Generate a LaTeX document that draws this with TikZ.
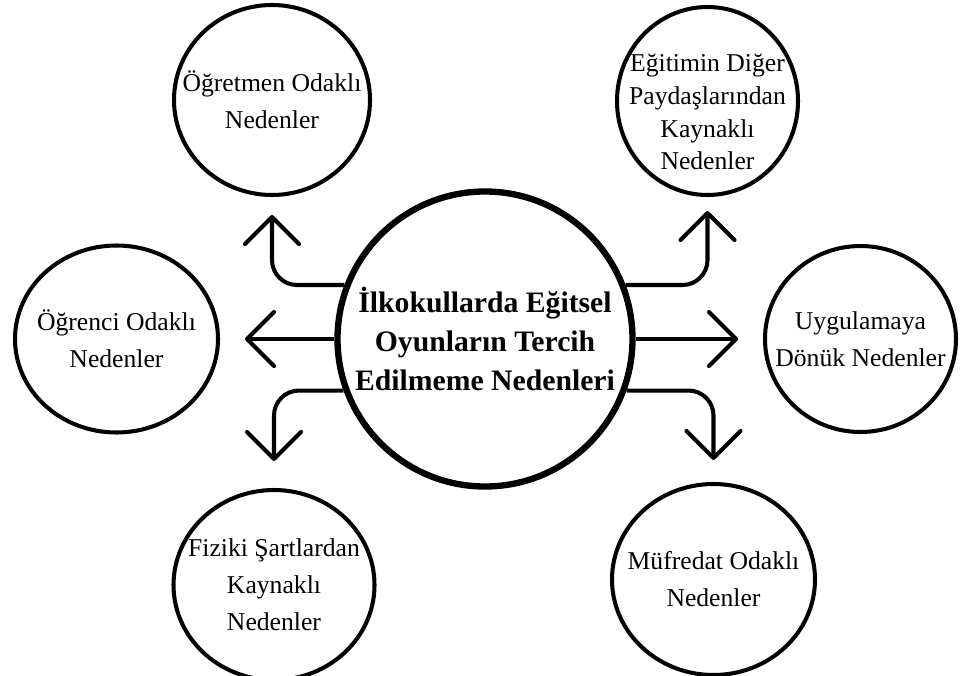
\documentclass[tikz,border=0pt]{standalone}
\usepackage{fontspec}
\setmainfont{Liberation Serif}
\usetikzlibrary{arrows.meta,shapes.geometric}

\begin{document}
\begin{tikzpicture}[
    neden/.style 2 args={ellipse, draw, line width=2.3pt, minimum width=#1, minimum height=#2,
        inner sep=-0.7cm, align=center, font=\fontsize{14.6}{21}\selectfont},
    ana/.style={circle, draw, line width=3.6pt, minimum size=5.9cm, inner sep=0pt,
        align=center, font=\fontsize{16.9}{22}\selectfont\bfseries},
    ok/.style={line width=2.3pt, -{Straight Barb[length=0.54cm, width=1.08cm, round]}}
]
\useasboundingbox (0,0) rectangle (19.2,13.5);

\node[ana] (ana) at (9.7,6.72) {İlkokullarda Eğitsel\\Oyunların Tercih\\Edilmeme Nedenleri};

\node[neden={3.92cm}{3.8cm}] (ogretmen) at (5.44,11.5) {Öğretmen Odaklı\\Nedenler};
\node[neden={3.62cm}{3.76cm},
    label={[align=center, font=\fontsize{14.6}{18.7}\selectfont, yshift=-0.22cm]center:Eğitimin Diğer\\Paydaşlarından\\Kaynaklı\\Nedenler}]
    (paydas) at (14.15,11.48) {};
\node[neden={4.06cm}{3.74cm}] (ogrenci) at (2.33,6.72) {Öğrenci Odaklı\\Nedenler};
\node[neden={3.82cm}{3.72cm}] (uygulama) at (17.21,6.72) {Uygulamaya\\Dönük Nedenler};
\node[neden={4.02cm}{3.8cm}] (fiziki) at (5.48,1.8) {Fiziki Şartlardan\\Kaynaklı\\Nedenler};
\node[neden={4.06cm}{3.82cm}] (mufredat) at (14.27,1.91) {Müfredat Odaklı\\Nedenler};

% oklar
\draw[ok, shorten >=0.5cm] (ana.west) -- (ogrenci.east);
\draw[ok, shorten >=0.5cm] (ana.east) -- (uygulama.west);
\draw[ok, rounded corners=0.5cm, shorten >=0.36cm] (ana.159) -| (ogretmen.south);
\draw[ok, rounded corners=0.5cm, shorten >=0.28cm] (ana.21) -| (paydas.south);
\draw[ok, rounded corners=0.5cm, shorten >=0.54cm] (ana.200) -| (fiziki.north);
\draw[ok, rounded corners=0.5cm, shorten >=0.44cm] (ana.340) -| (mufredat.north);
\end{tikzpicture}
\end{document}
